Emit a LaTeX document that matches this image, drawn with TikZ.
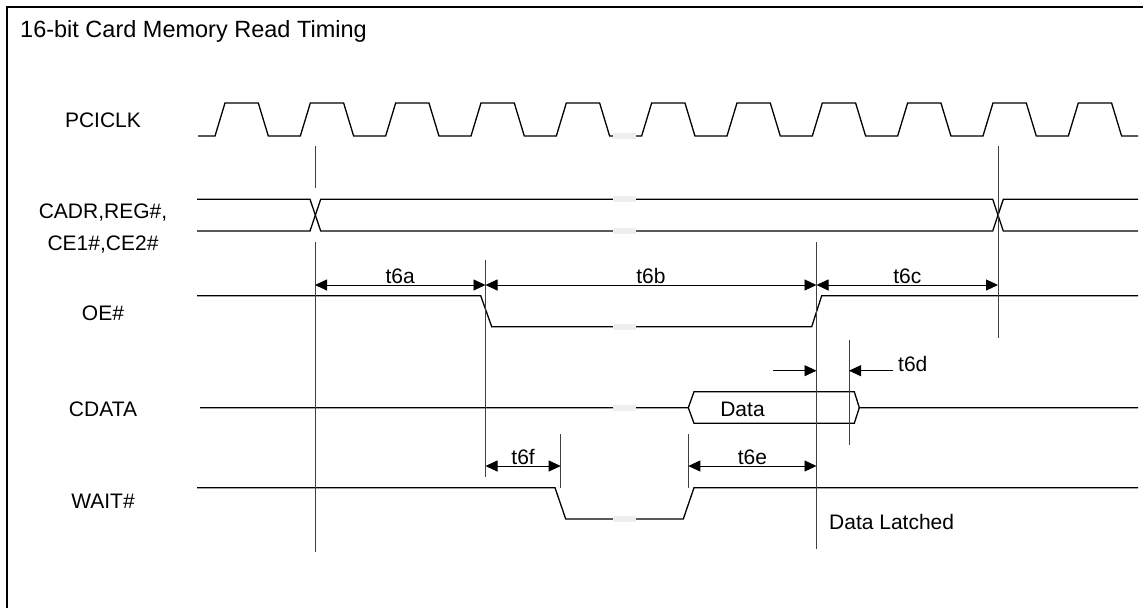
\documentclass[tikz,border=0pt]{standalone}
\usepackage{fontspec}
\setmainfont{Liberation Sans}
\usetikzlibrary{arrows.meta}
\definecolor{breakgray}{RGB}{238,238,238}
\tikzset{
    sig/.style={line width=1.3pt},
    tickline/.style={line width=0.9pt, black!75},
    dimline/.style={line width=0.9pt, {Triangle[length=12pt,width=11pt]}-{Triangle[length=12pt,width=11pt]}},
    halfdim/.style={line width=0.9pt, -{Triangle[length=12pt,width=11pt]}},
    sigtext/.style={font=\fontsize{21}{32}\selectfont, align=center},
    dimtext/.style={font=\fontsize{21}{24}\selectfont, inner sep=0.5pt, above},
    gapbox/.style={fill=breakgray}
}
\begin{document}
\begin{tikzpicture}[x=1pt, y=-1pt]
    \useasboundingbox (0,0) rectangle (1143,608);

    % frame and title:
    \draw[line width=2pt] (1143,7) -- (7,7) -- (7,608);
    \node[anchor=base west, inner sep=0, font=\fontsize{23.5}{28}\selectfont] (title) at (20,37) {16-bit Card Memory Read Timing};

    % signal names:
    \node[sigtext] (pciclk) at (103,120) {PCICLK};
    \node[sigtext] (cadr) at (103,229) {CADR,REG\#,\\CE1\#,CE2\#};
    \node[sigtext] (oe) at (103,313) {OE\#};
    \node[sigtext] (cdata) at (103,409) {CDATA};
    \node[sigtext] (wait) at (103,501) {WAIT\#};

    % clock:
    \draw[sig] (198,136) \foreach \k in {0,...,10} {
        -- ({215+85.33*\k},136) -- ({225+85.33*\k},103) -- ({258.3+85.33*\k},103) -- ({268.3+85.33*\k},136)
    } -- (1138,136);

    % address lines:
    \draw[sig] (197,199.3) -- (310,199.3) -- (320.7,231) -- (992.7,231) -- (1003.3,199.3) -- (1138,199.3);
    \draw[sig] (197,231) -- (310,231) -- (320.7,199.3) -- (992.7,199.3) -- (1003.3,231) -- (1138,231);

    % OE#:
    \draw[sig] (197,295.7) -- (480.7,295.7) -- (491.7,326.7) -- (811.7,326.7) -- (821.7,295.7) -- (1138,295.7);

    % CDATA:
    \draw[sig] (200,407.7) -- (688.3,407.7) -- (694,391.7) -- (854.3,391.7) -- (859.3,407.7) -- (1138,407.7);
    \draw[sig] (688.3,407.7) -- (694,423.3) -- (854.3,423.3) -- (859.3,407.7);
    \node[sigtext] (data) at (742.5,409) {Data};

    % WAIT#:
    \draw[sig] (197,487.7) -- (555,487.7) -- (565.7,519) -- (683.3,519) -- (694,487.7) -- (1138,487.7);

    % break marks:
    \foreach \y in {136,199.3,231,326.7,407.7,519}
        \fill[gapbox] (613,\y-3) rectangle (636,\y+3);

    % reference lines:
    \draw[tickline] (315,146) -- (315,188);
    \draw[tickline] (315,242) -- (315,552);
    \draw[tickline] (485.5,260) -- (485.5,477);
    \draw[tickline] (816.5,242) -- (816.5,549);
    \draw[tickline] (998,146) -- (998,338);
    \draw[tickline] (849,340) -- (849,445);
    \draw[tickline] (560.7,434) -- (560.7,488);
    \draw[tickline] (688.3,434) -- (688.3,488);

    % timing marks:
    \coordinate (ta) at (315,285);
    \coordinate (tb) at (485.5,285);
    \coordinate (tc) at (816.5,285);
    \coordinate (td) at (998,285);
    \coordinate (dl) at (773.3,370.7);
    \coordinate (dm) at (816.5,370.7);
    \coordinate (dn) at (849,370.7);
    \coordinate (dr) at (893.3,370.7);
    \coordinate (fa) at (485.5,466);
    \coordinate (fb) at (560.7,466);
    \coordinate (ea) at (688.3,466);
    \coordinate (eb) at (816.5,466);

    \draw[dimline] (ta) -- node[dimtext] (t6a) {t6a} (tb);
    \draw[dimline] (tb) -- node[dimtext] (t6b) {t6b} (tc);
    \draw[dimline] (tc) -- node[dimtext] (t6c) {t6c} (td);
    \draw[halfdim] (dl) -- (dm);
    \draw[halfdim] (dr) -- (dn);
    \node[sigtext, anchor=west, inner sep=0] (t6d) at (898,364) {t6d};
    \draw[dimline] (fa) -- node[dimtext] (t6f) {t6f} (fb);
    \draw[dimline] (ea) -- node[dimtext] (t6e) {t6e} (eb);

    % latch note:
    \node[anchor=base west, inner sep=0, font=\fontsize{21}{24}\selectfont] (latched) at (829,529) {Data Latched};
\end{tikzpicture}
\end{document}
